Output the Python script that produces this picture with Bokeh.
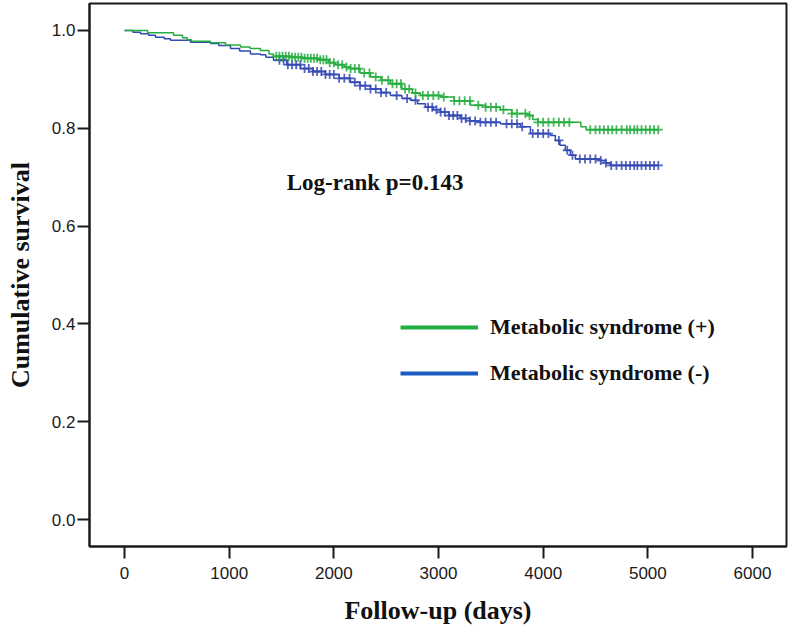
import numpy as np
from bokeh.plotting import figure
from bokeh.models import Range1d, FixedTicker, Label, Legend, LegendItem
from bokeh.embed import file_html
from bokeh.resources import INLINE

# --- Data ---
mets_pos_time = [0, 220, 468, 554, 600, 640, 821, 965, 1108, 1200, 1299, 1380, 1423, 1585, 1700,
                 1843, 1950, 2015, 2100, 2158, 2250, 2350, 2450, 2540, 2650, 2750, 2827, 3018,
                 3150, 3305, 3450, 3591, 3700, 3850, 3900, 3950, 4360, 4410, 5100]
mets_pos_surv = [1.0, 0.995, 0.990, 0.985, 0.981, 0.978, 0.975, 0.970, 0.966, 0.963, 0.959, 0.952,
                 0.947, 0.945, 0.943, 0.940, 0.934, 0.930, 0.925, 0.922, 0.913, 0.905, 0.898, 0.891,
                 0.880, 0.872, 0.867, 0.864, 0.856, 0.847, 0.843, 0.838, 0.830, 0.826, 0.818, 0.812,
                 0.803, 0.797, 0.797]
mets_pos_censor = [1450, 1480, 1510, 1540, 1570, 1600, 1630, 1660, 1690, 1720, 1750, 1780, 1810, 1840,
                   1870, 1900, 1930, 1960, 2000, 2040, 2080, 2120, 2160, 2200, 2240, 2290, 2340, 2400,
                   2460, 2520, 2560, 2600, 2640, 2680, 2720, 2780, 2850, 2900, 2950, 3000, 3050, 3150,
                   3200, 3250, 3300, 3380, 3450, 3500, 3550, 3620, 3700, 3750, 3830, 3870, 3950, 4000,
                   4050, 4100, 4150, 4200, 4250, 4450, 4500, 4540, 4580, 4620, 4660, 4700, 4750, 4800,
                   4830, 4870, 4900, 4940, 4980, 5020, 5060, 5100]

mets_neg_time = [0, 80, 153, 230, 296, 380, 439, 630, 821, 900, 1012, 1100, 1203, 1299, 1350, 1423,
                 1550, 1681, 1800, 1920, 2050, 2158, 2250, 2350, 2450, 2540, 2650, 2732, 2800, 2875,
                 2950, 3018, 3100, 3209, 3300, 3400, 3591, 3782, 3878, 4069, 4116, 4160, 4212, 4260,
                 4307, 4546, 4600, 4642, 5100]
mets_neg_surv = [1.0, 0.996, 0.993, 0.990, 0.986, 0.983, 0.980, 0.976, 0.973, 0.969, 0.963, 0.958,
                 0.952, 0.950, 0.945, 0.939, 0.930, 0.922, 0.916, 0.910, 0.902, 0.894, 0.887, 0.880,
                 0.873, 0.867, 0.861, 0.857, 0.850, 0.843, 0.838, 0.833, 0.826, 0.820, 0.815, 0.812,
                 0.809, 0.803, 0.789, 0.785, 0.775, 0.765, 0.755, 0.745, 0.737, 0.734, 0.729, 0.724,
                 0.724]
mets_neg_censor = [1480, 1520, 1560, 1600, 1640, 1680, 1720, 1760, 1800, 1840, 1880, 1920, 1960, 2000,
                   2050, 2100, 2150, 2200, 2250, 2300, 2350, 2400, 2450, 2500, 2600, 2700, 2780, 2900,
                   2940, 2980, 3020, 3060, 3100, 3140, 3180, 3220, 3260, 3300, 3350, 3400, 3450, 3500,
                   3550, 3650, 3700, 3750, 3800, 3900, 3950, 4000, 4050, 4150, 4230, 4280, 4350, 4400,
                   4450, 4500, 4550, 4600, 4650, 4700, 4750, 4790, 4830, 4870, 4900, 4940, 4980, 5020,
                   5060, 5100]

x_ticks = [0, 1000, 2000, 3000, 4000, 5000, 6000]
y_ticks = [0.0, 0.2, 0.4, 0.6, 0.8, 1.0]
legend_labels = ["Metabolic syndrome (+)", "Metabolic syndrome (-)"]
annotation_text = "Log-rank p=0.143"

GREEN = "#27ad3f"
BLUE = "#3549b3"
LEG_GREEN = "#1fae3f"
LEG_BLUE = "#1a5cbf"


def at_times(times, surv, q):
    times = np.asarray(times)
    surv = np.asarray(surv)
    idx = np.searchsorted(times, np.asarray(q), side="right") - 1
    return surv[np.clip(idx, 0, len(surv) - 1)]


p = figure(width=791, height=629, frame_width=697, frame_height=543,
           min_border_left=89, min_border_right=5, min_border_top=3, min_border_bottom=83,
           x_range=Range1d(-335, 6325), y_range=Range1d(-0.055, 1.055),
           output_backend="svg", toolbar_location=None)
p.background_fill_color = "white"
p.border_fill_color = "white"
p.xgrid.visible = False
p.ygrid.visible = False
p.outline_line_color = "#1a1a1a"
p.outline_line_width = 2
p.outline_line_alpha = 1

for ax in (p.xaxis, p.yaxis):
    ax.axis_line_color = "#1a1a1a"
    ax.axis_line_width = 2
    ax.major_tick_line_color = "#1a1a1a"
    ax.major_tick_line_width = 2
    ax.major_tick_out = 12
    ax.major_tick_in = 0
    ax.minor_tick_line_color = None
    ax.major_label_text_font = "Liberation Sans"
    ax.major_label_text_font_size = "17px"
    ax.major_label_text_color = "#1a1a1a"
    ax.axis_label_text_font = "Liberation Serif"
    ax.axis_label_text_font_style = "bold"
    ax.axis_label_text_font_size = "26px"
    ax.axis_label_text_color = "#111111"

p.xaxis.ticker = FixedTicker(ticks=x_ticks)
p.yaxis.ticker = FixedTicker(ticks=y_ticks)
p.yaxis.major_label_overrides = {v: f"{v:.1f}" for v in y_ticks}
p.xaxis.axis_label = "Follow-up (days)"
p.yaxis.axis_label = "Cumulative survival"
p.xaxis.major_label_standoff = 8
p.xaxis.axis_label_standoff = 14
p.yaxis.major_label_standoff = 2
p.yaxis.axis_label_standoff = 14

# survival curves
p.step(mets_neg_time, mets_neg_surv, mode="after", line_color=BLUE, line_width=1.5)
p.step(mets_pos_time, mets_pos_surv, mode="after", line_color=GREEN, line_width=1.5)

# censor marks
p.scatter(mets_neg_censor, at_times(mets_neg_time, mets_neg_surv, mets_neg_censor),
          marker="cross", size=9, line_color=BLUE, line_width=1.8, alpha=0.85)
p.scatter(mets_pos_censor, at_times(mets_pos_time, mets_pos_surv, mets_pos_censor),
          marker="cross", size=9, line_color=GREEN, line_width=1.8, alpha=0.85)

# log-rank text
p.add_layout(Label(x=1550, y=0.689, text=annotation_text, text_font="Liberation Serif",
                   text_font_style="bold", text_font_size="23px", text_color="#111111",
                   text_baseline="alphabetic"))

# legend with thick sample lines
r_pos = p.line(x=[np.nan], y=[np.nan], line_color=LEG_GREEN, line_width=4)
r_neg = p.line(x=[np.nan], y=[np.nan], line_color=LEG_BLUE, line_width=4)
legend = Legend(items=[LegendItem(label=legend_labels[0], renderers=[r_pos]),
                       LegendItem(label=legend_labels[1], renderers=[r_neg])],
                location=(311, 160), orientation="vertical",
                glyph_width=78, glyph_height=20, label_height=20, label_standoff=12,
                spacing=20, padding=0, margin=0,
                border_line_color=None, background_fill_alpha=0,
                label_text_font="Liberation Serif", label_text_font_style="bold",
                label_text_font_size="22px", label_text_color="#111111")
p.add_layout(legend)

open("out.html", "w").write(file_html(p, INLINE))
